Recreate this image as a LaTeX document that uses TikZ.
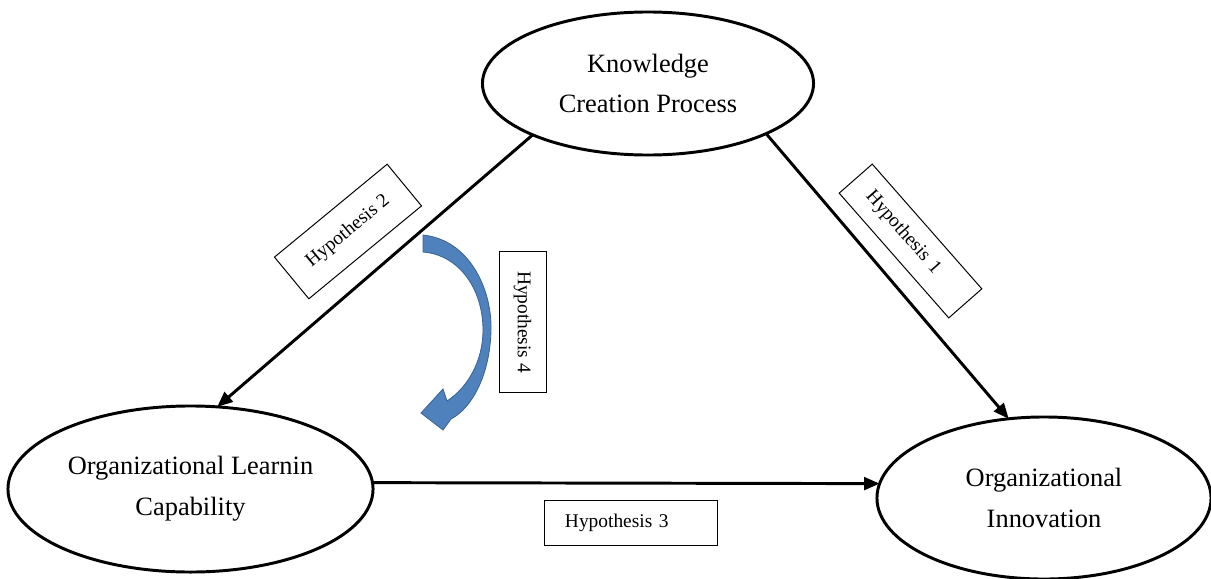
\documentclass[tikz,border=0pt]{standalone}
\usepackage{fontspec}
\setmainfont{Liberation Serif}
\usetikzlibrary{shapes.geometric,arrows.meta}

\definecolor{curveblue}{RGB}{79,129,189}
\definecolor{curveedge}{RGB}{60,100,150}

\begin{document}
\begin{tikzpicture}[x=0.025cm, y=-0.025cm,
  concept/.style={draw, ellipse, line width=2.1pt, inner sep=0pt, outer sep=0pt, align=center, font=\fontsize{18.8}{29}\selectfont},
  hyp/.style={draw, line width=0.7pt, inner sep=0pt, font=\fontsize{13.8}{16}\selectfont},
  link/.style={line width=2.1pt, -{Triangle[length=11pt,width=9pt]}}]

\useasboundingbox (0,0) rectangle (1211,579);

% Concepts
\node[concept, minimum width=8.275cm, minimum height=3.575cm] (KCP) at (648,83.5) {Knowledge\\Creation Process};
\node[concept, minimum width=9.125cm, minimum height=4.15cm] (OLC) at (190.5,489) {Organizational Learnin\\Capability};
\node[concept, minimum width=8.35cm, minimum height=4.05cm] (OI) at (1044,498) {Organizational\\Innovation};

% Links
\draw[link] (KCP.204) -- (OLC.72);
\draw[link] (KCP.337) -- (OI.114.5);
\draw[link] (OLC.2) -- (OI.175);

% Hypotheses
\node[hyp, rotate=39.5, minimum width=3.65cm, minimum height=1.35cm] (H2) at (348,231.5) {Hypothesis 2};
\node[hyp, rotate=-48.7, minimum height=1.1cm, text width=3.15cm, inner xsep=0.5cm, align=left] (H1) at (910.5,241) {Hypothesis 1};
\node[hyp, rotate=-90, minimum width=3.5cm, minimum height=1.175cm] (H4) at (522.5,322) {Hypothesis 4};
\node[hyp, minimum height=1.125cm, text width=3.3cm, inner xsep=0.5cm, align=left] (H3) at (631,522.5) {Hypothesis 3};

% Curved arrow (mediation)
\filldraw[fill=curveblue, draw=curveedge, line width=0.6pt]
  (423,235) .. controls (470,240) and (492,290) .. (491,330)
  .. controls (490,375) and (472,408) .. (451,419)
  -- (443,430) -- (421,413) -- (443,389) -- (447,401)
  .. controls (467,388) and (483,362) .. (483,330)
  .. controls (483,290) and (460,255) .. (423,252) -- cycle;

\end{tikzpicture}
\end{document}
